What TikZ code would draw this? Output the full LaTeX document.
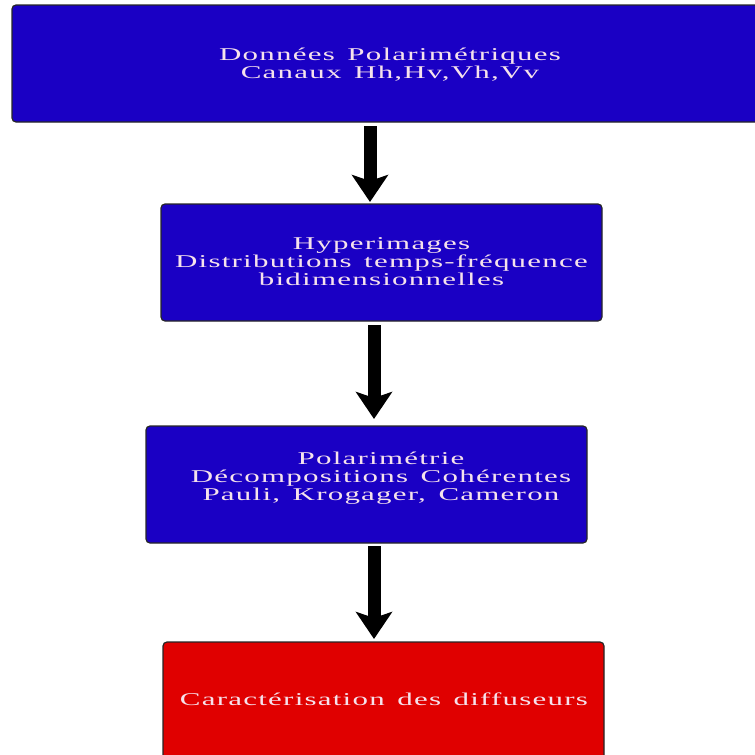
\documentclass[tikz,border=0pt]{standalone}
\usepackage{fontspec}
\usepackage{graphicx}
\newfontfamily\lblfont[LetterSpace=4,WordSpace=1.4]{Liberation Serif}
\usetikzlibrary{arrows.meta}
\definecolor{boxblue}{RGB}{26,0,196}
\definecolor{boxred}{RGB}{224,0,0}
\definecolor{txtpink}{RGB}{246,226,236}
\newcommand\widetext[1]{\scalebox{1.72}[1]{\lblfont\fontsize{18}{17.5}\selectfont\begin{tabular}{@{}c@{}}#1\end{tabular}}}
\tikzset{
  flowbox/.style={draw=black!85, line width=1.2pt, rounded corners=4pt, inner sep=0pt},
  bluebox/.style={flowbox, fill=boxblue},
  redbox/.style={flowbox, fill=boxred},
  boxtext/.style={text=txtpink, inner sep=0pt, anchor=center},
  flowarrow/.style={line width=13pt, -{Stealth[length=27pt, width=36pt, inset=6pt]}}
}
\renewcommand\arraystretch{1}
\begin{document}
\begin{tikzpicture}[x=1pt, y=-1pt]
\useasboundingbox (0,0) rectangle (755,755);
\clip (0,0) rectangle (755,755);
\node[bluebox, minimum width=756pt, minimum height=117pt] (b1) at (390,63.5) {};
\node[bluebox, minimum width=441pt, minimum height=117pt] (b2) at (381.5,262.5) {};
\node[bluebox, minimum width=441pt, minimum height=117pt] (b3) at (366.5,484.5) {};
\node[redbox, minimum width=441pt, minimum height=117pt] (b4) at (383.5,700.5) {};
\node[boxtext] (t1) at (390,66) {\widetext{Données Polarimétriques\\Canaux Hh,Hv,Vh,Vv}};
\node[boxtext] (t2) at (381.5,264) {\widetext{Hyperimages\\Distributions temps-fréquence\\bidimensionnelles}};
\node[boxtext] (t3) at (381,479) {\widetext{Polarimétrie\\Décompositions Cohérentes\\Pauli, Krogager, Cameron}};
\node[boxtext] (t4) at (384,702) {\widetext{Caractérisation des diffuseurs}};
\coordinate (a1s) at (370,126);
\coordinate (a1e) at (370,202);
\coordinate (a2s) at (374,325);
\coordinate (a2e) at (374,419);
\coordinate (a3s) at (374,546);
\coordinate (a3e) at (374,639);
\draw[flowarrow] (a1s) -- (a1e);
\draw[flowarrow] (a2s) -- (a2e);
\draw[flowarrow] (a3s) -- (a3e);
\end{tikzpicture}
\end{document}
